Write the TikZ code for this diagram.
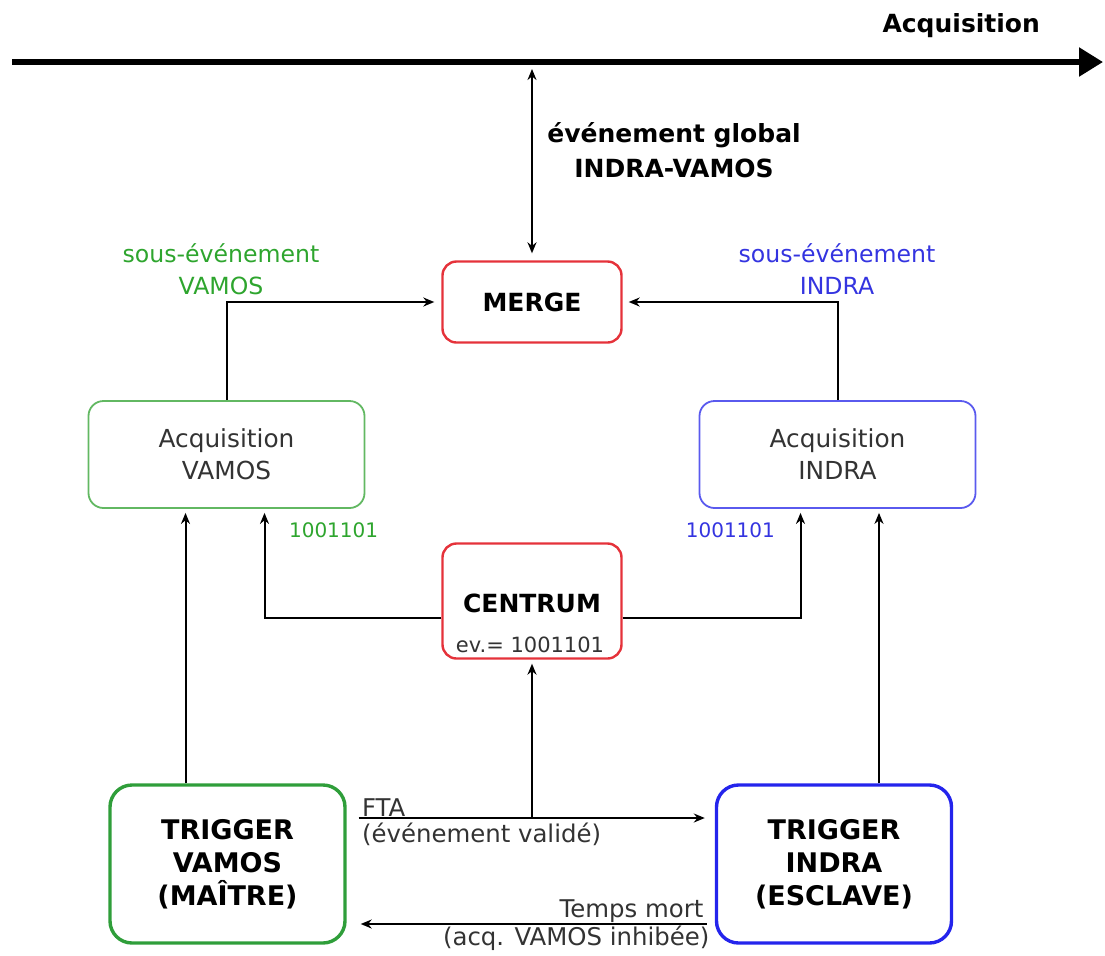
\documentclass[tikz,border=0pt]{standalone}
\usepackage{fontspec}
\setmainfont{DejaVu Sans}
\usetikzlibrary{arrows.meta,calc}
\definecolor{boxred}{HTML}{E5323A}
\definecolor{vgreen}{HTML}{2F9E3A}
\definecolor{vgreenlt}{HTML}{62B862}
\definecolor{vgreentxt}{HTML}{2EA52E}
\definecolor{iblue}{HTML}{2424EC}
\definecolor{ibluelt}{HTML}{5A5AEE}
\definecolor{ibluetxt}{HTML}{3434E0}
\definecolor{txtgray}{HTML}{333333}
\tikzset{
  >={Stealth[length=5.5pt,width=4.5pt]},
  redbox/.style={draw=boxred,rounded corners=7pt,line width=1.2pt,minimum width=89.5pt},
  acqbox/.style={rounded corners=7.5pt,line width=.9pt,minimum width=138pt,minimum height=53.5pt,
    align=center,text=txtgray,font=\fontsize{12.4}{16}\selectfont},
  trigbox/.style={rounded corners=11pt,line width=1.7pt,minimum width=117.5pt,minimum height=79pt,
    align=center,font=\bfseries\fontsize{13.5}{16.5}\selectfont},
  flow/.style={->,line width=1pt},
  lbl/.style={font=\fontsize{12.2}{15}\selectfont,text=txtgray,inner sep=1.5pt},
  bold/.style={font=\bfseries\fontsize{12.5}{17.5}\selectfont},
  code/.style={font=\fontsize{10}{12}\selectfont},
}

\begin{document}
\begin{tikzpicture}[x=.5pt,y=-.5pt]
  \useasboundingbox (0,0) rectangle (1105,955);

  % time axis
  \coordinate (axisA) at (12,62);
  \coordinate (axisB) at (1103,62);
  \draw[line width=2.7pt,-{Triangle[length=12pt,width=14pt]}] (axisA) -- (axisB);
  \node[bold,anchor=east] (axislbl) at (1047,26) {Acquisition};

  \node[redbox,minimum height=40.5pt,bold] (merge) at (532,302) {MERGE};
  \node[redbox,minimum height=57.5pt] (centrum) at (532,601) {};
  \node[bold] (centrumname) at (532,603) {CENTRUM};
  \node[code,font=\fontsize{10.5}{12}\selectfont,text=txtgray] (centrumev) at (530,645) {ev.= 1001101};

  \node[acqbox,draw=vgreenlt] (acqV) at (226.5,454.5) {Acquisition\\VAMOS};
  \node[acqbox,draw=ibluelt] (acqI) at (837.5,454.5) {Acquisition\\INDRA};

  \node[trigbox,draw=vgreen] (trigV) at (227.5,864) {TRIGGER\\VAMOS\\(MAÎTRE)};
  \node[trigbox,draw=iblue] (trigI) at (834,864) {TRIGGER\\INDRA\\(ESCLAVE)};

  % global event
  \draw[flow,<->,shorten <=3.5pt,shorten >=3.5pt] (merge.north |- axisA) -- (merge.north);
  \node[bold,align=center] (globlbl) at (674,150) {événement global\\INDRA-VAMOS};

  % sub-events into MERGE
  \draw[flow,shorten >=3.5pt] (acqV.north) |- (merge.west);
  \draw[flow,shorten >=3pt] (acqI.north) |- (merge.east);
  \node[lbl,text=vgreentxt,align=center,font=\fontsize{11.8}{16}\selectfont] (subV) at (221,269) {sous-événement\\VAMOS};
  \node[lbl,text=ibluetxt,align=center,font=\fontsize{11.8}{16}\selectfont] (subI) at (837,269) {sous-événement\\INDRA};

  % event number from CENTRUM
  \draw[flow,shorten >=2pt] ($(centrum.west)+(0,17)$) -| ($(acqV.south)+(38,0)$);
  \draw[flow,shorten >=2pt] ($(centrum.east)+(0,17)$) -| ($(acqI.south)+(-37,0)$);
  \node[code,text=vgreentxt,anchor=west] (numV) at (282,530) {1001101};
  \node[code,text=ibluetxt,anchor=east] (numI) at (782,530) {1001101};

  % triggers start acquisitions
  \draw[flow,shorten >=2pt] ($(trigV.north)+(-42,0)$) coordinate (upV) -- (upV |- acqV.south);
  \draw[flow,shorten >=2pt] ($(trigI.north)+(45,0)$) coordinate (upI) -- (upI |- acqI.south);

  % FTA and dead time
  \coordinate (fta) at ($(trigV.east)+(12,-46)$);
  \draw[flow] (fta) -- ($(trigI.west)+(-10,-46)$);
  \draw[flow,shorten >=2pt] (fta -| centrum.south) -- (centrum.south);
  \node[lbl,anchor=south west,inner ysep=.5pt] (ftalbl) at (fta) {FTA};
  \node[lbl,anchor=north west,inner ysep=2.5pt] (ftatxt) at (fta) {(événement validé)};

  \coordinate (dead) at ($(trigI.west)+(-8,60)$);
  \draw[flow] (dead) -- ($(trigV.east)+(14,60)$);
  \node[lbl,anchor=south east,inner ysep=.5pt] (deadlbl) at (dead) {Temps mort};
  \node[lbl,anchor=north east,inner ysep=1pt] (deadtxt) at ($(dead)+(6,0)$) {(acq. VAMOS inhibée)};
\end{tikzpicture}
\end{document}
